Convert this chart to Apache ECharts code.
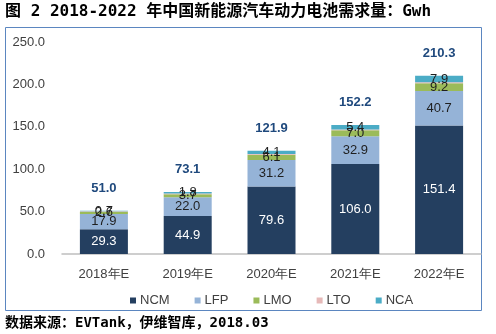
<!DOCTYPE html>
<html><head><meta charset="utf-8">
<script src="https://cdn.jsdelivr.net/npm/echarts@6/dist/echarts.min.js"></script>
<style>html,body{margin:0;padding:0;background:#fff;}#c{width:496px;height:334px;}</style>
</head><body><div id="c"></div>
<script>
const categories = ['2018年E','2019年E','2020年E','2021年E','2022年E'];
const ncm = [29.3, 44.9, 79.6, 106.0, 151.4];
const lfp = [17.9, 22.0, 31.2, 32.9, 40.7];
const lmo = [2.6, 3.7, 6.1, 7.0, 9.2];
const lto = [0.5, 0.7, 0.9, 0.9, 1.1];
const nca = [0.7, 1.8, 4.1, 5.4, 7.9];
const totals = [51.0, 73.1, 121.9, 152.2, 210.3];
const yTicks = [0, 50, 100, 150, 200, 250];

const font = 'Liberation Sans, Noto Sans, sans-serif';
const chart = echarts.init(document.getElementById('c'));
function seg(name, data, color, labelColor, showLabel) {
  return {
    name, type: 'bar', stack: 'all', data, barWidth: 48,
    itemStyle: { color },
    label: { show: showLabel, position: 'inside', color: labelColor, fontSize: 13, fontFamily: font,
      formatter: p => p.value.toFixed(1) },
    labelLayout: { hideOverlap: false },
    emphasis: { disabled: true }
  };
}
chart.setOption({
  animation: false,
  graphic: [
    { type: 'rect', shape: { x: 5.5, y: 27.5, width: 476, height: 283 }, style: { fill: 'none', stroke: '#5b86c0', lineWidth: 1 }, z: -1 },
    { type: 'text', left: 5, top: 4, style: { text: '图 2 2018-2022 年中国新能源汽车动力电池需求量：Gwh', font: 'bold 16px "DejaVu Sans Mono", "Noto Sans CJK SC", monospace', fill: '#000' } },
    { type: 'text', left: 5, top: 316, style: { text: '数据来源：EVTank，伊维智库，2018.03', font: 'bold 14px "DejaVu Sans Mono", "Noto Sans CJK SC", monospace', fill: '#000' } }
  ],
  grid: { left: 62, right: 15, top: 42, bottom: 80, containLabel: false },
  legend: {
    top: 289, left: 125, itemWidth: 6, itemHeight: 6, itemGap: 25,
    icon: 'rect',
    textStyle: { fontSize: 13, fontFamily: font, color: '#404040', padding: [0, 0, 0, -1] },
    data: ['NCM','LFP','LMO','LTO','NCA']
  },
  xAxis: {
    type: 'category', data: categories,
    axisLine: { lineStyle: { color: '#bfbfbf', width: 1.5 } },
    axisTick: { show: false },
    axisLabel: { fontSize: 13, fontFamily: font, color: '#404040', margin: 14 }
  },
  yAxis: {
    type: 'value', min: yTicks[0], max: yTicks[yTicks.length-1], interval: 50,
    axisLine: { show: false }, axisTick: { show: false },
    splitLine: { show: false },
    axisLabel: { fontSize: 13, fontFamily: font, color: '#404040', margin: 17, formatter: v => v.toFixed(1) }
  },
  series: [
    seg('NCM', ncm, '#243f60', '#fff', true),
    seg('LFP', lfp, '#95b3d7', '#1f1f1f', true),
    seg('LMO', lmo, '#9bbb59', '#1f1f1f', true),
    seg('LTO', lto, '#e6b9b8', '#1f1f1f', false),
    seg('NCA', nca, '#4bacc6', '#1f1f1f', true),
    {
      name: 'total', type: 'bar', data: totals, barWidth: 48, barGap: '-100%', z: 1,
      itemStyle: { color: 'rgba(0,0,0,0)' }, silent: true,
      label: { show: true, position: 'top', distance: 16, color: '#1f497d', fontWeight: 'bold', fontSize: 13, fontFamily: font,
        formatter: p => p.value.toFixed(1) },
      emphasis: { disabled: true }
    }
  ]
});
</script></body></html>
